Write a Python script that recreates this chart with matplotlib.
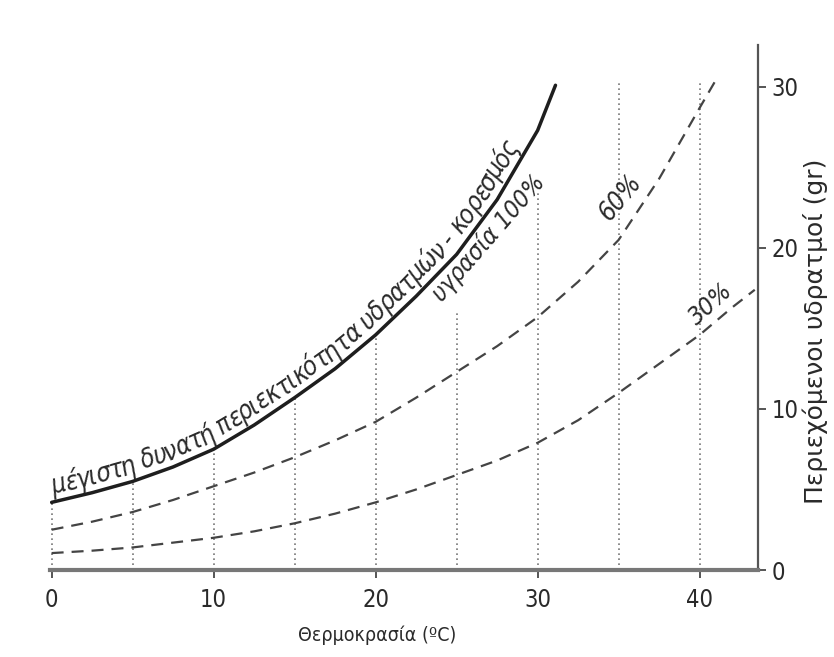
import numpy as np
import matplotlib.pyplot as plt
from matplotlib.transforms import IdentityTransform
from matplotlib.font_manager import FontProperties

# --- data ---
t_sat = [0, 2.5, 5, 7.5, 10, 12.5, 15, 17.5, 20, 22.5, 25, 27.5, 30, 31.1]
v_sat = [4.2, 4.8, 5.5, 6.4, 7.5, 9.0, 10.7, 12.5, 14.6, 17.0, 19.6, 23.0, 27.3, 30.1]

t_60 = [0, 2.5, 5, 7.5, 10, 12.5, 15, 17.5, 20, 22.5, 25, 27.5, 30, 32.5, 35, 37.5, 40, 41.1]
v_60 = [2.5, 3.0, 3.6, 4.35, 5.2, 6.05, 7.0, 8.05, 9.2, 10.7, 12.3, 13.9, 15.7, 17.9, 20.5, 24.3, 28.7, 30.6]

t_30 = [0, 2.5, 5, 7.5, 10, 12.5, 15, 17.5, 20, 22.5, 25, 27.5, 30, 32.5, 35, 37.5, 40, 42, 43.4]
v_30 = [1.05, 1.2, 1.4, 1.7, 2.0, 2.4, 2.9, 3.5, 4.2, 5.0, 5.9, 6.8, 7.9, 9.3, 11.0, 12.8, 14.6, 16.3, 17.4]

grid_x = [0, 5, 10, 15, 20, 25, 30, 35, 40]
grid_top = [4.2, 5.5, 7.5, 10.7, 14.6, 16.1, 23.6, 30.3, 30.4]

x_ticks = [0, 10, 20, 30, 40]
y_ticks = [0, 10, 20, 30]

plt.rcParams['font.family'] = ['DejaVu Sans']
plt.rcParams['font.stretch'] = 'condensed'

fig = plt.figure(figsize=(8.34, 6.57), dpi=100)
ax = fig.add_axes([50 / 834, 87 / 657, 708 / 834, 525 / 657])
ax.set_xlim(-0.1, 43.6)
ax.set_ylim(0, 32.6)

ink = '#2a2a2a'
gray = '#555555'

ax.vlines(grid_x, 0, grid_top, colors='#777777', linestyles=(0, (1, 2)), lw=1.2)
ax.plot(t_sat, v_sat, color='#1e1e1e', lw=2.5, solid_capstyle='round')
ax.plot(t_60, v_60, color='#444444', lw=1.6, ls=(0, (5.4, 3.6)))
ax.plot(t_30, v_30, color='#444444', lw=1.6, ls=(0, (5.4, 3.6)))

for s in ['left', 'top']:
    ax.spines[s].set_visible(False)
ax.spines['right'].set_color(gray)
ax.spines['right'].set_linewidth(1.6)
ax.spines['bottom'].set_color('#777777')
ax.spines['bottom'].set_linewidth(3)

ax.yaxis.tick_right()
ax.set_xticks(x_ticks)
ax.set_yticks(y_ticks)
ax.tick_params(axis='both', direction='out', length=6, width=1.4, color=gray,
               labelsize=17, labelcolor=ink)
ax.tick_params(axis='x', pad=7)

ax.text(20.1, -0.125, 'Θερμοκρασία (ºC)', transform=ax.get_xaxis_transform(),
        fontsize=14, color=ink, ha='center', va='center')
fig.text(815 / 834, 1 - 331 / 657, 'Περιεχόμενοι υδρατμοί (gr)', fontsize=18,
         color=ink, rotation=90, ha='center', va='center', stretch='normal')


def text_along(xs, ys, text, start_x, end_x, offset, size):
    """place the text letter by letter along a curve given in data units"""
    fig.canvas.draw()
    rend = fig.canvas.get_renderer()
    prop = FontProperties(family='DejaVu Sans', style='oblique',
                          stretch='condensed', size=size)
    pts = ax.transData.transform(np.column_stack([xs, ys]))
    seg = np.hypot(*np.diff(pts, axis=0).T)
    arc = np.concatenate([[0], np.cumsum(seg)])
    s0 = np.interp(ax.transData.transform((start_x, 0))[0], pts[:, 0], arc)
    s1 = np.interp(ax.transData.transform((end_x, 0))[0], pts[:, 0], arc)

    def width(s):
        return rend.get_text_width_height_descent(s, prop, ismath=False)[0]

    advs = [width('x' + ch + 'x') - width('xx') for ch in text]
    track = (s1 - s0 - sum(advs)) / max(len(text) - 1, 1)
    pos = s0
    for ch, adv in zip(text, advs):
        mid = pos + adv / 2
        i = min(max(np.searchsorted(arc, mid) - 1, 0), len(seg) - 1)
        f = (mid - arc[i]) / seg[i]
        p = pts[i] + f * (pts[i + 1] - pts[i])
        d = (pts[i + 1] - pts[i]) / seg[i]
        nrm = np.array([-d[1], d[0]])
        q = p + offset * nrm
        ang = np.degrees(np.arctan2(d[1], d[0]))
        ax.text(q[0], q[1], ch, transform=IdentityTransform(), fontproperties=prop,
                color=ink, rotation=ang, rotation_mode='anchor',
                ha='center', va='baseline')
        pos += adv + track


text_along(t_sat, v_sat, 'μέγιστη δυνατή περιεκτικότητα υδρατμών - κορεσμός',
           0.2, 29.3, 8, 18.5)

ax.text(24.1, 16.6, 'υγρασία 100%', fontsize=17.5, color=ink, style='oblique',
        rotation=49, rotation_mode='anchor', ha='left', va='baseline')
ax.text(35.1, 23.1, '60%', fontsize=18.5, color=ink, style='oblique', rotation=50,
        ha='center', va='center')
ax.text(40.7, 16.5, '30%', fontsize=18, color=ink, style='oblique', rotation=42,
        ha='center', va='center')

fig.savefig('out.png', dpi=100)
